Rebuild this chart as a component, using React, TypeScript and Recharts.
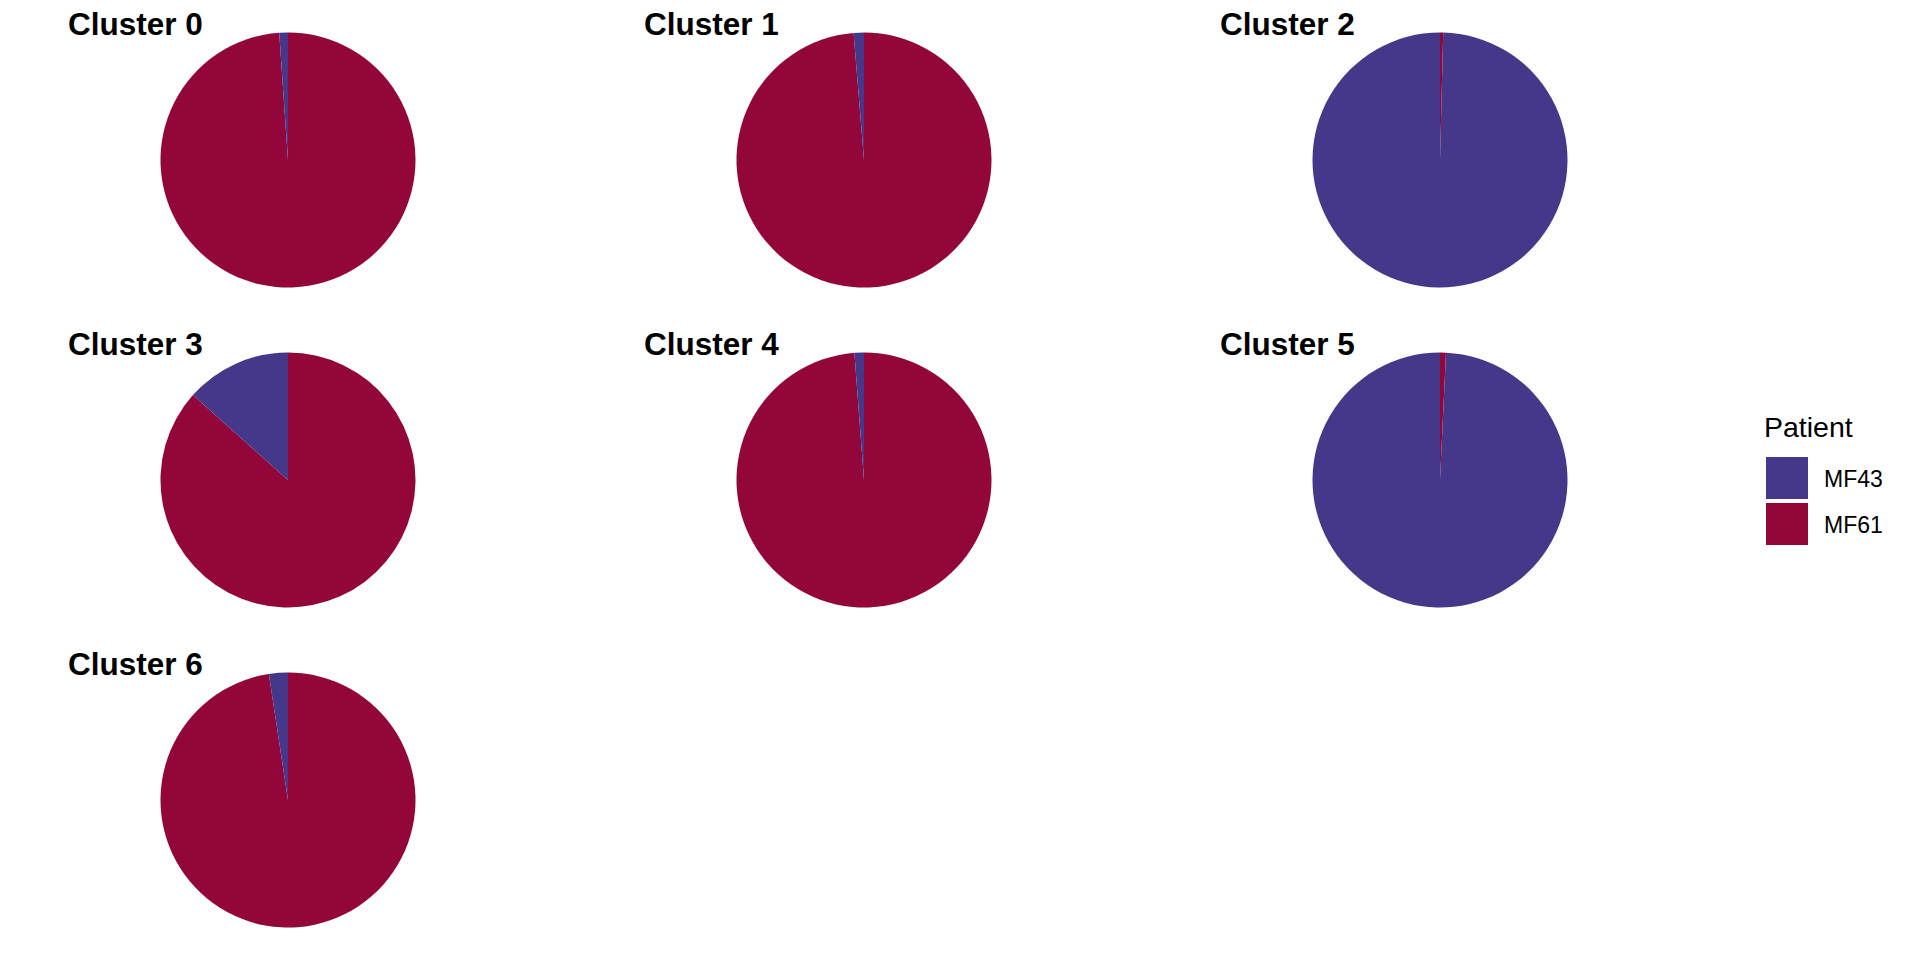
import React from "react"
import { Cell, Pie, PieChart } from "recharts"

// share of cells per patient in each cluster (%)
const clusters = ["Cluster 0", "Cluster 1", "Cluster 2", "Cluster 3", "Cluster 4", "Cluster 5", "Cluster 6"]
const patients = ["MF43", "MF61"]
const mf43 = [1.1, 1.3, 99.6, 13.4, 1.2, 99.25, 2.4]
const mf61 = [98.9, 98.7, 0.4, 86.6, 98.8, 0.75, 97.6]

const COLORS: Record<string, string> = { MF43: "#45378A", MF61: "#93063A" }

const COL_X = [288, 864, 1440]
const ROW_Y = [160, 480, 800]
const RADIUS = 127.5
const FONT = "'Liberation Sans', Arial, Helvetica, sans-serif"

export default function App() {
  return (
    <div style={{ position: "absolute", left: 0, top: 0, width: 1920, height: 960, background: "#fff" }}>
      <PieChart width={1920} height={960} margin={{ top: 0, right: 0, bottom: 0, left: 0 }}>
        {clusters.map((c, i) => {
          // ggplot stacks MF61 first from 12 o'clock, clockwise
          const data = [
            { patient: "MF61", value: mf61[i] },
            { patient: "MF43", value: mf43[i] },
          ]
          return (
            <Pie
              key={c}
              data={data}
              dataKey="value"
              nameKey="patient"
              cx={COL_X[i % 3]}
              cy={ROW_Y[Math.floor(i / 3)]}
              outerRadius={RADIUS}
              innerRadius={0}
              startAngle={90}
              endAngle={-270}
              stroke="none"
              isAnimationActive={false}
            >
              {data.map((d) => (
                <Cell key={d.patient} fill={COLORS[d.patient]} />
              ))}
            </Pie>
          )
        })}
      </PieChart>
      <svg
        width={1920}
        height={960}
        style={{ position: "absolute", left: 0, top: 0, pointerEvents: "none" }}
      >
        {clusters.map((c, i) => (
          <text
            key={c}
            x={68 + (i % 3) * 576}
            y={35 + Math.floor(i / 3) * 320}
            fontFamily={FONT}
            fontWeight="bold"
            fontSize={31.5}
            fill="#000"
          >
            {c}
          </text>
        ))}
        <text x={1764} y={437} fontFamily={FONT} fontSize={28.5} fill="#000">
          Patient
        </text>
        {patients.map((p, i) => (
          <g key={p}>
            <rect x={1766} y={457 + i * 46} width={42} height={42} fill={COLORS[p]} />
            <text x={1824} y={487 + i * 46} fontFamily={FONT} fontSize={23} fill="#000">
              {p}
            </text>
          </g>
        ))}
      </svg>
    </div>
  )
}
